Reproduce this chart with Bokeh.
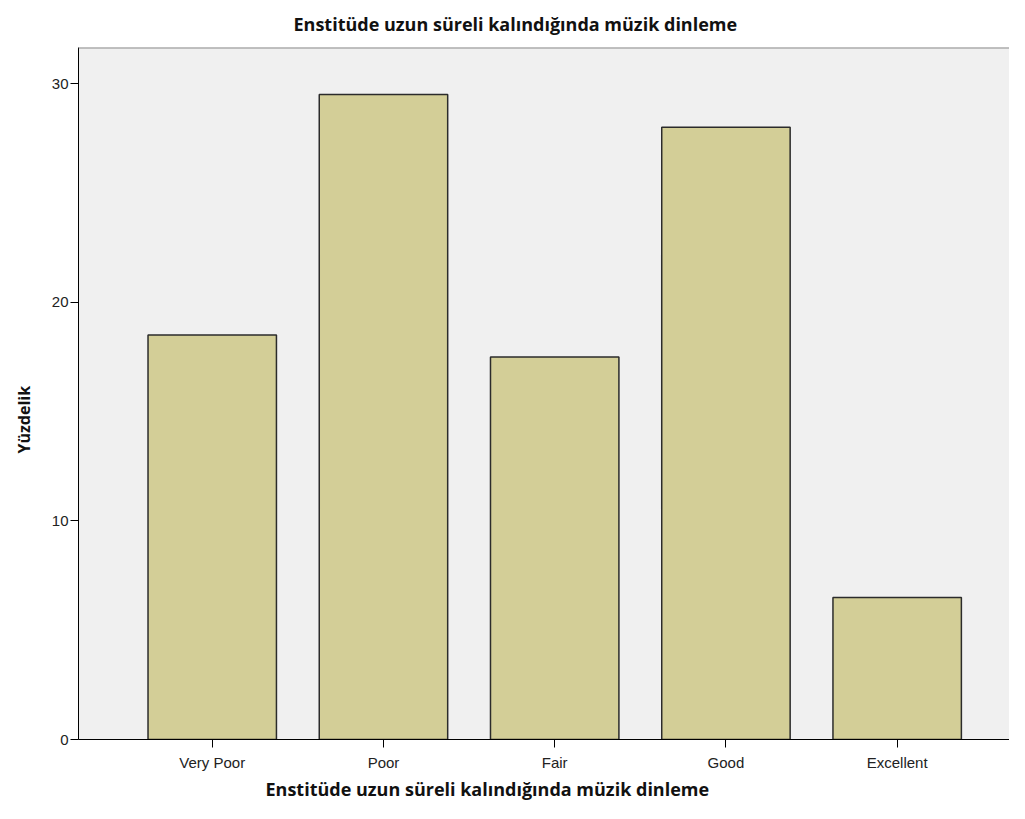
from bokeh.plotting import figure
from bokeh.models import Range1d, FixedTicker, Span, Title
from bokeh.embed import file_html
from bokeh.resources import INLINE

categories = ["Very Poor", "Poor", "Fair", "Good", "Excellent"]
percent = [18.5, 29.5, 17.5, 28.0, 6.5]
y_ticks = [0, 10, 20, 30]
title_text = "Enstitüde uzun süreli kalındığında müzik dinleme"
x_label_text = "Enstitüde uzun süreli kalındığında müzik dinleme"
y_label_text = "Yüzdelik"

positions = list(range(len(categories)))

p = figure(width=1009, height=803, output_backend="svg", toolbar_location=None,
           x_range=Range1d(-0.781, 4.656), y_range=Range1d(0, 31.65),
           min_border_left=76, min_border_right=0, min_border_top=47, min_border_bottom=62)

p.background_fill_color = "#F0F0F0"
p.border_fill_color = "white"
p.outline_line_color = None
p.grid.visible = False

p.vbar(x=positions, top=percent, bottom=0, width=0.75,
       fill_color="#D3CE97", line_color="#2b2b2b", line_width=1.5)

top_line = Span(location=31.65, dimension="width", line_color="#8a8a8a", line_width=2)
p.add_layout(top_line)

p.xaxis.ticker = FixedTicker(ticks=positions)
p.xaxis.major_label_overrides = {i: c for i, c in zip(positions, categories)}
p.xaxis.major_tick_out = 8
p.xaxis.major_tick_in = 0
p.xaxis.minor_tick_line_color = None
p.xaxis.axis_line_color = "black"
p.xaxis.major_tick_line_color = "black"
p.xaxis.major_label_text_font = "Liberation Sans"
p.xaxis.major_label_text_font_size = "15px"
p.xaxis.major_label_text_color = "#222222"
p.xaxis.major_label_standoff = 6

p.yaxis.ticker = FixedTicker(ticks=y_ticks)
p.yaxis.major_tick_out = 8
p.yaxis.major_tick_in = 0
p.yaxis.minor_tick_line_color = None
p.yaxis.axis_line_color = "black"
p.yaxis.major_tick_line_color = "black"
p.yaxis.major_label_text_font = "Liberation Sans"
p.yaxis.major_label_text_font_size = "15px"
p.yaxis.major_label_text_color = "#222222"
p.yaxis.major_label_standoff = 2

font = "Open Sans"
p.title.text = title_text
p.title.align = "left"
p.title.offset = 215
p.title.vertical_align = "top"
p.title.standoff = 20
p.title.text_font = font
p.title.text_font_style = "bold"
p.title.text_font_size = "18px"
p.title.text_color = "#111111"

p.add_layout(Title(text=x_label_text, align="left", offset=187, vertical_align="middle", standoff=4,
                   text_font=font, text_font_style="bold", text_font_size="18px",
                   text_color="#111111"), "below")

p.add_layout(Title(text=y_label_text, align="left", offset=286, vertical_align="top", standoff=24,
                   text_font=font, text_font_style="bold", text_font_size="16px",
                   text_color="#111111"), "left")

open("out.html", "w").write(file_html(p, INLINE))
